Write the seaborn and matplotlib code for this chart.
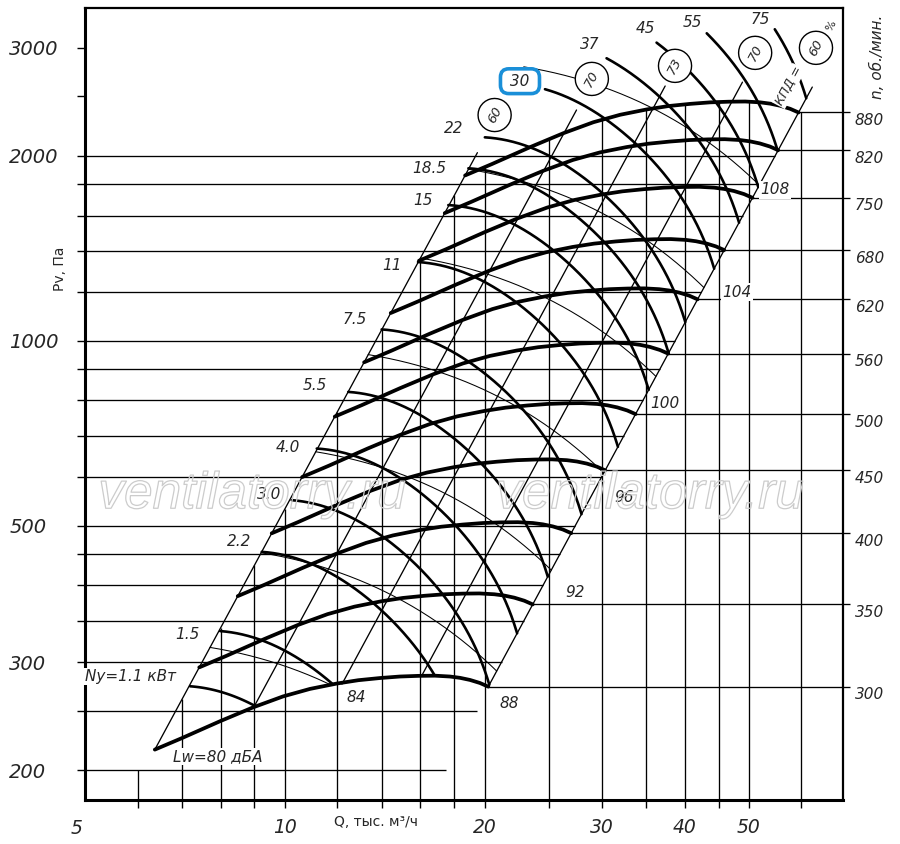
import numpy as np
import pandas as pd
import seaborn as sns
import matplotlib.pyplot as plt
import matplotlib.patheffects as pe
from matplotlib.ticker import NullFormatter

sns.set_theme(style='white')
plt.rcParams['font.family'] = ['DejaVu Sans']

# %%
# fan curve at 300 rpm (Q in thousand m3/h, Pv in Pa)
base_q = [6.37, 6.99, 7.99, 8.96, 9.94, 10.91, 11.97, 12.9, 13.91, 14.9, 15.88,
          16.83, 17.73, 18.36, 19.0, 19.67, 20.25]
base_p = [216.1, 225.5, 240.4, 253.2, 263.8, 271.3, 276.8, 280.3, 282.6, 284.2, 284.9,
          285.1, 284.2, 282.8, 280.6, 277.4, 273.6]
rpm = [300, 350, 400, 450, 500, 560, 620, 680, 750, 820, 880]

# efficiency rays (КПД): lower point on the 300 rpm curve, upper end, label spot
eff_values = [60, 70, 73, 70, 60]
eff_q_low = [6.37, 8.98, 12.19, 16.09, 20.25]
eff_p_low = [216.1, 253.4, 276.2, 285.6, 273.6]
eff_q_top = [19.5, 27.5, 37.4, 48.9, 62.3]
eff_label_q = [20.7, 29.0, 38.7, 51.1, 63.1]
eff_label_p = [2332, 2670, 2804, 2944, 3000]

# motor power lines Ny (kW): first visible point of each line
ny_labels = ['Ny=1.1 кВт', '1.5', '2.2', '3.0', '4.0', '5.5', '7.5', '11', '15',
             '18.5', '22', '30', '37', '45', '55', '75']
ny_q0 = [7.20, 7.99, 9.23, 10.24, 11.17, 12.46, 13.99, 15.87, 17.63, 18.90,
         20.01, 24.65, 30.52, 36.3, 43.2, 54.7]
ny_p0 = [274, 337, 453.5, 550.5, 668, 826, 1044, 1344, 1664, 1910,
         2145, 2569, 2885, 3059, 3168, 3216]
ny_dx = [-60, -33, -23, -23, -29, -33, -27, -26, -25, -39, -31, -25, -17, -11, -14, -14]
ny_dy = [10, -3, 10, 6, 1, 6, 10, -3, 5, 0, 9, 8, 14, 14, 11, 10]

# thin power lines: start on the left edge, growth of P*Q at each efficiency ray
thin_q0 = [7.71, 9.21, 11.13, 13.35, 16.0, 18.9, 22.9]
thin_p0 = [317, 452, 660, 950, 1364, 1903, 2794]
thin_gain = [1.0, 1.2, 1.34, 1.43, 1.46]

# sound power labels
lw_labels = ['Lw=80 дБА', '84', '88', '92', '96', '100', '104', '108']
lw_q = [7.92, 12.8, 21.8, 27.4, 32.4, 37.4, 48.0, 54.7]
lw_p = [210.8, 263, 257, 390, 557, 792, 1201, 1761]

# grid
grid_p = [200, 250, 300, 350, 400, 450, 500, 600, 700, 800, 900, 1000,
          1200, 1400, 1600, 1800, 2000]
grid_low_end = [17.5, 19.5]   # right ends of the 200 and 250 lines
grid_q = [6, 7, 8, 9, 10, 12, 14, 16, 18, 20, 25, 30, 35, 40, 45, 50, 60]

# %%
lq_base = np.log10(base_q)
lp_base = np.log10(base_p)
s_base = lp_base - 2 * lq_base
s_eff = np.log10(eff_p_low) - 2 * np.log10(eff_q_low)
s_left, s_right = s_eff[0], s_eff[-1]
eta_coef = np.polyfit(s_eff, np.log10(eff_values), 4)
gain_coef = np.polyfit(s_eff, np.log10(thin_gain), 2)


def power_line(q0, p0, coef):
    s0 = np.log10(p0) - 2 * np.log10(q0)
    c = np.log10(p0) + np.log10(q0) - np.polyval(coef, s0)
    s = np.linspace(s0, s_right, 400)
    lq = (c + np.polyval(coef, s) - s) / 3
    lp = s + 2 * lq
    lq300 = np.interp(s, s_base[::-1], lq_base[::-1])
    d = lq - lq300
    if (d < 0).any():
        i = int(np.argmax(d < 0))
        t = d[i - 1] / (d[i - 1] - d[i])
        lq_c = lq[i - 1] + t * (lq[i] - lq[i - 1])
        lp_c = lp[i - 1] + t * (lp[i] - lp[i - 1])
        lq = np.append(lq[:i], lq_c)
        lp = np.append(lp[:i], lp_c)
    return 10 ** lq, 10 ** lp


k880 = rpm[-1] / rpm[0]
q880 = np.array(base_q) * k880
p880 = np.array(base_p) * k880 ** 2


def env_top(q):
    if q < q880[0]:
        return max(10 ** s_left * q * q, grid_p[0])
    if q <= q880[-1]:
        return 10 ** np.interp(np.log10(q), np.log10(q880), np.log10(p880))
    return p880[-1]


fan_df = pd.concat([pd.DataFrame({'q': np.array(base_q) * n / rpm[0],
                                  'p': np.array(base_p) * (n / rpm[0]) ** 2,
                                  'rpm': n}) for n in rpm])
ny_df = pd.concat([pd.DataFrame(dict(zip(['q', 'p'], power_line(q0, p0, eta_coef)), line=i))
                   for i, (q0, p0) in enumerate(zip(ny_q0, ny_p0))])
thin_df = pd.concat([pd.DataFrame(dict(zip(['q', 'p'], power_line(q0, p0, gain_coef)), line=i))
                     for i, (q0, p0) in enumerate(zip(thin_q0, thin_p0))])
eff_df = pd.concat([pd.DataFrame({'q': [ql, qt], 'p': [pl, pl * (qt / ql) ** 2], 'line': i})
                    for i, (ql, pl, qt) in enumerate(zip(eff_q_low, eff_p_low, eff_q_top))])

# %%
fig = plt.figure(figsize=(9, 8.44), dpi=100)
ax = fig.add_axes([85 / 900, 44 / 844, 758 / 900, 792 / 844])
ax.set_xscale('log')
ax.set_yscale('log')
ax.set_xlim(5, 69.3)
ax.set_ylim(178.9, 3483)
ax.set_facecolor('white')

for name, sp in ax.spines.items():
    sp.set_color('black')
    sp.set_linewidth(2.2 if name in ('left', 'bottom') else 1.6)

ax.set_xticks([10, 20, 30, 40, 50], ['10', '20', '30', '40', '50'],
              fontstyle='italic', fontsize=13.5)
ax.set_xticks([6, 7, 8, 9, 12, 14, 16, 18, 25, 35, 45, 60], minor=True)
ax.xaxis.set_minor_formatter(NullFormatter())
ax.set_yticks([200, 300, 500, 1000, 2000, 3000],
              ['200', '300', '500', '1000', '2000', '3000'],
              fontstyle='italic', fontsize=14, ha='left')
ax.set_yticks([250, 350, 400, 450, 600, 700, 800, 900, 1200, 1400, 1600, 1800, 2500],
              minor=True)
ax.yaxis.set_minor_formatter(NullFormatter())
ax.tick_params(axis='x', which='both', direction='out', length=6, width=1,
               bottom=True, color='black', pad=7)
ax.tick_params(axis='y', which='both', direction='out', length=5.5, width=1,
               left=True, color='black')
ax.tick_params(axis='y', which='major', pad=49)

# grid lines
for p in grid_p:
    q_end = grid_low_end[grid_p.index(p)] if p < base_p[-1] else np.sqrt(p / 10 ** s_right)
    ax.hlines(p, 5, q_end, color='black', lw=0.95, zorder=1)
for q in grid_q:
    ax.vlines(q, 178.9, env_top(q), color='black', lw=0.95, zorder=1)

# rpm levels on the right
for n in rpm:
    k = n / rpm[0]
    q_end, p_end = base_q[-1] * k, base_p[-1] * k ** 2
    ax.hlines(p_end, q_end, 71.0, color='black', lw=0.95, zorder=1, clip_on=False)
    ax.annotate(str(n), (72.2, p_end), xytext=(0, -8), textcoords='offset pixels',
                ha='left', va='center', fontsize=11, fontstyle='italic',
                annotation_clip=False)

sns.lineplot(data=eff_df, x='q', y='p', units='line', estimator=None, sort=False,
             color='black', lw=0.95, ax=ax, zorder=2, legend=False)
sns.lineplot(data=thin_df, x='q', y='p', units='line', estimator=None, sort=False,
             color='black', lw=0.75, ax=ax, zorder=2, legend=False)
sns.lineplot(data=ny_df, x='q', y='p', units='line', estimator=None, sort=False,
             color='black', lw=1.9, ax=ax, zorder=3, legend=False)
sns.lineplot(data=fan_df, x='q', y='p', units='rpm', estimator=None, sort=False,
             color='black', lw=2.7, ax=ax, zorder=4, legend=False)
ax.set_xlabel('')
ax.set_ylabel('')

# labels of the power lines
white = dict(boxstyle='square,pad=0.08', fc='white', ec='none')
for lab, q0, p0, dx, dy in zip(ny_labels, ny_q0, ny_p0, ny_dx, ny_dy):
    box = white
    if lab == '30':
        lab = ' 30 '
        box = dict(boxstyle='round,pad=0.32,rounding_size=0.55', fc='white',
                   ec='#1a8fd8', lw=2.6)
    ax.annotate(lab, (q0, p0), xytext=(dx, dy), textcoords='offset pixels',
                ha='center', va='center', fontsize=11, fontstyle='italic',
                bbox=box, zorder=6)

for lab, q, p in zip(lw_labels, lw_q, lw_p):
    ax.text(q, p, lab, ha='center', va='center', fontsize=11, fontstyle='italic',
            bbox=white, zorder=6)

for v, q, p in zip(eff_values, eff_label_q, eff_label_p):
    ax.text(q, p, str(v), ha='center', va='center', fontsize=9.5, fontstyle='italic',
            rotation=62, rotation_mode='anchor', zorder=6,
            bbox=dict(boxstyle='circle,pad=0.62', fc='white', ec='black', lw=1.0))
ax.text(66.5, 3256, '%', ha='center', va='center', fontsize=8, rotation=62, zorder=6)
ax.text(57.4, 2600, 'КПД =', ha='center', va='center', fontsize=9, fontstyle='italic',
        rotation=62, rotation_mode='anchor', bbox=white, zorder=6)

# axis titles
ax.text(4.86, 160.8, '5', ha='center', va='center', fontsize=13.5, fontstyle='italic',
        clip_on=False)
ax.text(13.7, 164.8, 'Q, тыс. м³/ч', ha='center', va='center', fontsize=10,
        clip_on=False)
ax.text(4.58, 1309, 'Pv, Па', ha='center', va='center', fontsize=10, rotation=90,
        family=['Liberation Sans Narrow', 'DejaVu Sans'], clip_on=False)
ax.text(78, 2900, 'n, об./мин.', ha='center', va='center', fontsize=11,
        fontstyle='italic', rotation=90, clip_on=False)

# watermark
for q in (8.93, 35.5):
    ax.text(q, 534, 'ventilatorry.ru', ha='center', va='baseline', fontsize=37,
            family='Liberation Sans', fontstyle='italic', color=(1, 1, 1, 0),
            path_effects=[pe.Stroke(linewidth=0.9, foreground='#cccccc')], zorder=7)

fig.savefig('out.png', dpi=100)
